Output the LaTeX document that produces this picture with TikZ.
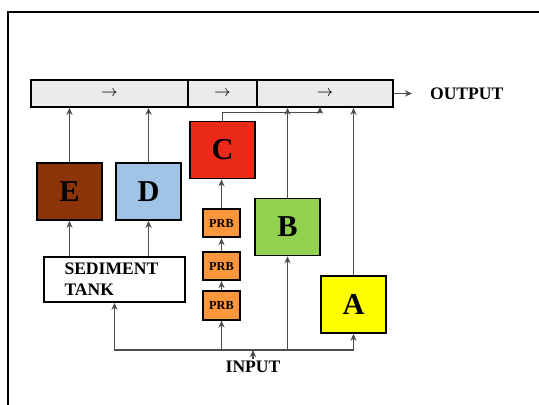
\documentclass[tikz,border=0pt]{standalone}
\usepackage{fontspec}
\setmainfont{Liberation Serif}
\usetikzlibrary{arrows.meta, positioning, calc}
\definecolor{ebrown}{RGB}{140,52,8}
\definecolor{dblue}{RGB}{160,196,230}
\definecolor{cred}{RGB}{236,42,26}
\definecolor{bgreen}{RGB}{146,208,80}
\definecolor{ayellow}{RGB}{255,255,0}
\definecolor{prborange}{RGB}{250,150,60}
\tikzset{
  unit/.style={rectangle, draw=black, line width=1pt,
    minimum width=1.3cm, minimum height=1.14cm,
    font=\LARGE\bfseries, inner sep=0pt},
  prbbox/.style={rectangle, draw=black, line width=1pt, fill=prborange,
    minimum width=0.74cm, minimum height=0.57cm,
    font=\scriptsize\bfseries, inner sep=0pt},
  seg/.style={rectangle, draw=black, line width=1pt, fill=black!8,
    minimum height=0.54cm, inner sep=0pt, font=\small},
  lbl/.style={font=\normalsize\bfseries, inner sep=1pt},
  arr/.style={-{Stealth[length=4pt,width=3.5pt]}, line width=0.8pt, draw=black!70},
}
\begin{document}
\begin{tikzpicture}[x=0.02cm, y=-0.02cm]
  \useasboundingbox (0,0) rectangle (539,405);
  % frame
  \draw[line width=1.2pt] (8,405) -- (8,12) -- (539,12);

  % output channel
  \node[seg, minimum width=3.14cm] (seg1) at (109.5,93.5) {$\rightarrow$};
  \node[seg, minimum width=1.38cm] (seg2) at (222.5,93.5) {$\rightarrow$};
  \node[seg, minimum width=2.72cm] (seg3) at (325,93.5) {$\rightarrow$};
  \coordinate (outTip) at (412,93.5);
  \node[lbl, anchor=west] (output) at (428,93.5) {OUTPUT};
  \draw[arr] (seg3.east) -- (outTip);

  % treatment units
  \node[unit, fill=ebrown] (E) at (69.5,191.5) {E};
  \node[unit, fill=dblue] (D) at (148.5,191.5) {D};
  \node[unit, fill=cred] (C) at (222.5,150) {C};
  \node[unit, fill=bgreen] (B) at (287.5,227) {B};
  \node[unit, fill=ayellow] (A) at (353.5,304.5) {A};

  % sediment tank
  \node[rectangle, draw=black, line width=1pt, fill=white,
    minimum width=2.82cm, minimum height=0.9cm,
    font=\normalsize\bfseries, align=left, text width=2cm,
    inner sep=0pt] (tank) at (114.5,279.5) {SEDIMENT\\TANK};

  % PRB chain
  \node[prbbox] (prb1) at (221.5,223) {PRB};
  \node[prbbox] (prb2) at (221.5,266) {PRB};
  \node[prbbox] (prb3) at (221.5,305.5) {PRB};

  % input
  \coordinate (in) at (253,350);
  \node[lbl, anchor=north] (input) at (253,359) {INPUT};
  \draw[arr] (input.north) -- (in);

  % input distribution
  \draw[arr] (in) -| (tank.south);
  \draw[arr] (in) -| (A.south);
  \draw[arr] (prb3.south |- in) -- (prb3.south);
  \draw[arr] (B.south |- in) -- (B.south);

  % internal connections
  \draw[arr] (E.south |- tank.north) -- (E.south);
  \draw[arr] (D.south |- tank.north) -- (D.south);
  \draw[arr] (prb3.north) -- (prb2.south);
  \draw[arr] (prb2.north) -- (prb1.south);
  \draw[arr] (prb1.north) -- (prb1.north |- C.south);

  % to output channel
  \draw[arr] (E.north) -- (E.north |- seg1.south);
  \draw[arr] (D.north) -- (D.north |- seg1.south);
  \coordinate (cIn) at (320,107);
  \draw[arr] (C.north) -- ++(0,-8) -| (cIn);
  \draw[arr] (B.north) -- (B.north |- seg3.south);
  \draw[arr] (A.north) -- (A.north |- seg3.south);
\end{tikzpicture}
\end{document}
